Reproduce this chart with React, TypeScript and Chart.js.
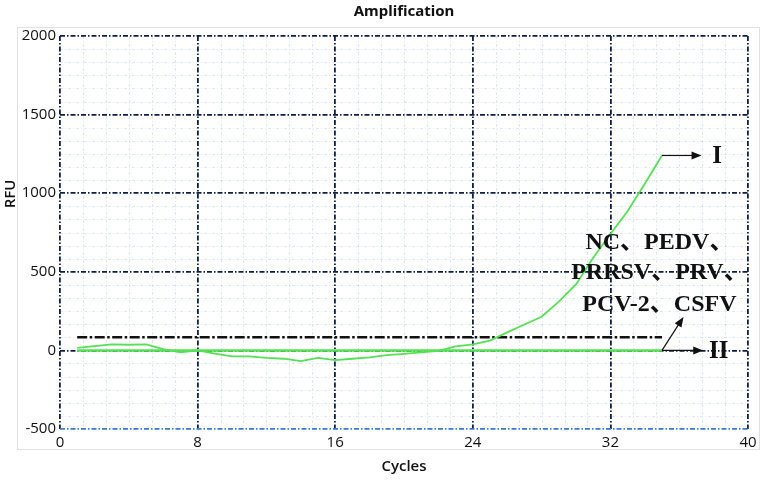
import React, { useEffect, useRef } from "react";
import { Chart, registerables } from "chart.js";

Chart.register(...registerables);

const cycles = [1, 2, 3, 4, 5, 6, 7, 8, 9, 10, 11, 12, 13, 14, 15, 16, 17, 18, 19, 20, 21, 22, 23, 24, 25, 26, 27, 28, 29, 30, 31, 32, 33, 34, 35];
const curveIValues = [16, 27, 38, 36, 38, 8, -13, 0, -20, -38, -38, -47, -53, -68, -47, -62, -53, -45, -30, -22, -12, -3, 25, 38, 62, 115, 165, 214, 310, 420, 590, 740, 885, 1060, 1240];
const curveIIValues = [0, 0, 0, 0, 0, 0, 0, 0, 0, 0, 0, 0, 0, 0, 0, 0, 0, 0, 0, 0, 0, 0, 0, 0, 0, 0, 0, 0, 0, 0, 0, 0, 0, 0, 0];
const thresholdCycles = [1, 35];
const thresholdValue = 83;
const xTickStep = 8;
const yTickStep = 500;
const groupLines = ["NC、PEDV、", "PRRSV、PRV、", "PCV-2、CSFV"];

const GREEN = "#55e055";
const NAVY = "#0e1f48";
const DASHDOT = [5, 2, 1.5, 2];

function arrow(ctx: CanvasRenderingContext2D, x1: number, y1: number, x2: number, y2: number) {
  const ang = Math.atan2(y2 - y1, x2 - x1);
  const hl = 10;
  const hw = 4;
  ctx.save();
  ctx.strokeStyle = "#111";
  ctx.fillStyle = "#111";
  ctx.lineWidth = 1.2;
  ctx.setLineDash([]);
  ctx.beginPath();
  ctx.moveTo(x1, y1);
  ctx.lineTo(x2 - Math.cos(ang) * hl * 0.8, y2 - Math.sin(ang) * hl * 0.8);
  ctx.stroke();
  ctx.beginPath();
  ctx.moveTo(x2, y2);
  ctx.lineTo(x2 - Math.cos(ang) * hl - Math.sin(ang) * hw, y2 - Math.sin(ang) * hl + Math.cos(ang) * hw);
  ctx.lineTo(x2 - Math.cos(ang) * hl + Math.sin(ang) * hw, y2 - Math.sin(ang) * hl - Math.cos(ang) * hw);
  ctx.closePath();
  ctx.fill();
  ctx.restore();
}

const decorPlugin = {
  id: "decor",
  beforeDraw(chart: any) {
    const { ctx, chartArea } = chart;
    const xs = chart.scales.x;
    const ys = chart.scales.y;
    ctx.save();
    ctx.fillStyle = "#fff";
    ctx.fillRect(0, 0, chart.width, chart.height);
    ctx.strokeStyle = "#e2e2e2";
    ctx.lineWidth = 1;
    ctx.strokeRect(17.5, 27.5, chart.width - 23, chart.height - 59);
    // minor grid
    ctx.strokeStyle = "rgba(120,150,210,0.22)";
    ctx.lineWidth = 1;
    ctx.setLineDash([3, 2, 1, 2]);
    for (let v = xs.min; v < xs.max; v += xTickStep) {
      for (let k = 1; k < 6; k++) {
        const px = Math.round(xs.getPixelForValue(v + (xTickStep * k) / 6)) + 0.5;
        ctx.beginPath();
        ctx.moveTo(px, chartArea.top);
        ctx.lineTo(px, chartArea.bottom);
        ctx.stroke();
      }
    }
    for (let v = ys.min; v < ys.max; v += yTickStep) {
      for (let k = 1; k < 6; k++) {
        const py = Math.round(ys.getPixelForValue(v + (yTickStep * k) / 6)) + 0.5;
        ctx.beginPath();
        ctx.moveTo(chartArea.left, py);
        ctx.lineTo(chartArea.right, py);
        ctx.stroke();
      }
    }
    ctx.restore();
  },
  afterDraw(chart: any) {
    const { ctx, chartArea } = chart;
    const xs = chart.scales.x;
    const ys = chart.scales.y;
    ctx.save();
    ctx.fillStyle = "#111";
    ctx.textAlign = "center";
    ctx.textBaseline = "middle";
    ctx.font = "bold 15px 'Noto Sans'";
    ctx.fillText("Amplification", (chartArea.left + chartArea.right) / 2, 12);
    ctx.font = "600 15px 'Open Sans'";
    ctx.fillText("Cycles", (chartArea.left + chartArea.right) / 2, 467);
    ctx.save();
    ctx.translate(11, 194);
    ctx.rotate(-Math.PI / 2);
    ctx.font = "600 15px 'Open Sans'";
    ctx.fillText("RFU", 0, 0);
    ctx.restore();

    const lastI = curveIValues[curveIValues.length - 1];
    const lastII = curveIIValues[curveIIValues.length - 1];
    const lastC = cycles[cycles.length - 1];
    const ex = xs.getPixelForValue(lastC);
    const eyI = ys.getPixelForValue(lastI);
    const eyII = ys.getPixelForValue(lastII);
    arrow(ctx, ex, eyI, xs.getPixelForValue(37.3), eyI);
    arrow(ctx, ex, eyII, xs.getPixelForValue(37.4), eyII);
    arrow(ctx, ex, eyII, xs.getPixelForValue(36.25), ys.getPixelForValue(213));

    ctx.font = "bold 25px 'Liberation Serif'";
    ctx.fillText("I", xs.getPixelForValue(38.2), eyI + 1);
    ctx.fillText("II", xs.getPixelForValue(38.3), eyII + 1);
    ctx.font = "bold 24px 'Liberation Serif', 'Noto Sans CJK SC'";
    const lineVals = [683, 492, 288];
    groupLines.forEach((t, i) => {
      ctx.fillText(t, xs.getPixelForValue(34.85), ys.getPixelForValue(lineVals[i]));
    });
    ctx.restore();
  },
};

export default function App() {
  const ref = useRef<HTMLCanvasElement>(null);
  useEffect(() => {
    document.body.style.margin = "0";
    if (!ref.current) return;
    const chart = new Chart(ref.current, {
      type: "line",
      data: {
        datasets: [
          {
            label: "I",
            data: cycles.map((c, i) => ({ x: c, y: curveIValues[i] })),
            borderColor: GREEN,
            borderWidth: 1.8,
            pointRadius: 0,
            tension: 0,
          },
          {
            label: "II",
            data: cycles.map((c, i) => ({ x: c, y: curveIIValues[i] })),
            borderColor: GREEN,
            borderWidth: 2.5,
            pointRadius: 0,
            tension: 0,
          },
          {
            label: "Threshold",
            data: thresholdCycles.map((c) => ({ x: c, y: thresholdValue })),
            borderColor: "#111",
            borderWidth: 2.5,
            borderDash: [10, 2.5, 2.5, 2.5],
            pointRadius: 0,
          },
        ],
      },
      options: {
        responsive: false,
        animation: false,
        devicePixelRatio: 1,
        layout: { padding: { top: 36, right: 17, left: 0, bottom: 0 } },
        plugins: { legend: { display: false }, tooltip: { enabled: false }, title: { display: false } },
        scales: {
          x: {
            type: "linear",
            min: 0,
            max: 40,
            afterFit: (s: any) => {
              s.height = 52;
            },
            ticks: {
              stepSize: xTickStep,
              color: "#111",
              font: { family: "'Open Sans'", size: 15 },
              padding: 5,
              maxRotation: 0,
              autoSkip: false,
              callback: (v: any) => String(v),
            },
            grid: { color: NAVY, lineWidth: 1.8, drawTicks: false },
            border: { display: false, dash: DASHDOT },
          },
          y: {
            type: "linear",
            min: -500,
            max: 2000,
            afterFit: (s: any) => {
              s.width = 60;
            },
            ticks: {
              stepSize: yTickStep,
              color: "#111",
              font: { family: "'Open Sans'", size: 15 },
              padding: 4,
              callback: (v: any) => String(v),
            },
            grid: {
              color: (c: any) => (c.tick && c.tick.value === -500 ? "#3a7bd5" : NAVY),
              lineWidth: 1.8,
              drawTicks: false,
            },
            border: { display: false, dash: DASHDOT },
          },
        },
      },
      plugins: [decorPlugin],
    } as any);
    return () => chart.destroy();
  }, []);
  return <canvas ref={ref} width={765} height={481} style={{ display: "block", width: 765, height: 481 }} />;
}
